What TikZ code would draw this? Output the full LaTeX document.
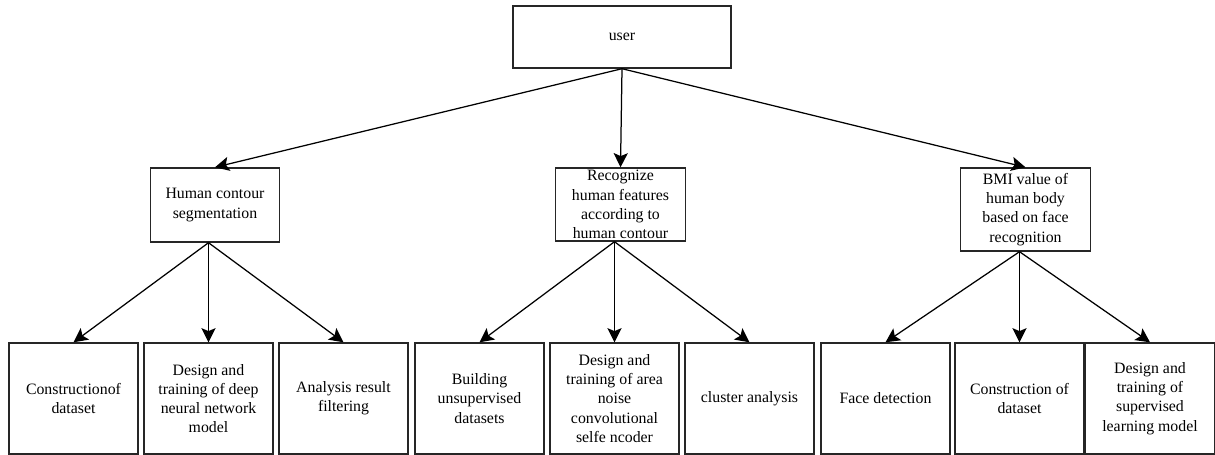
\documentclass[tikz,border=0pt]{standalone}
\usepackage{fontspec}
\setmainfont{Liberation Serif}
\usetikzlibrary{arrows.meta, positioning}

\begin{document}
\begin{tikzpicture}[x=0.6pt, y=-0.6pt,
  box/.style={draw=black!85, line width=0.85pt, align=center, inner sep=1pt, font=\fontsize{9.5}{11.5}\selectfont},
  mid/.style={box, minimum width=77.7pt},
  leaf/.style={box, minimum width=77.4pt, minimum height=66.6pt},
  arr/.style={line width=0.75pt, -{Stealth[length=8.5pt, width=8.5pt, inset=1.8pt]}}]
\useasboundingbox (0,0) rectangle (1215,455);
\node [box, minimum width=130.8pt, minimum height=37.2pt] (user) at (622,37) {user};
\node [mid, minimum height=44.4pt] (human) at (215,205) {Human contour\\segmentation};
\node [mid, minimum height=43.8pt] (recog) at (620.5,204.5) {Recognize\\human features\\according to\\human contour};
\node [mid, minimum height=49.8pt] (bmi) at (1025.5,209.5) {BMI value of\\human body\\based on face\\recognition};
% bottom row
\node [leaf] (hdata) at (73.5,398.5) {Constructionof\\dataset};
\node [leaf] (hdnn) at (208.5,398.5) {Design and\\training of deep\\neural network\\model};
\node [leaf] (hfilter) at (343.5,398.5) {Analysis result\\filtering};
\node [leaf] (rdata) at (479.5,398.5) {Building\\unsupervised\\datasets};
\node [leaf] (rnoise) at (614.5,398.5) {Design and\\training of area\\noise\\convolutional\\selfe ncoder};
\node [leaf] (rcluster) at (749.5,398.5) {cluster analysis};
\node [leaf] (bface) at (885.5,398.5) {Face detection};
\node [leaf] (bdata) at (1019.5,398.5) {Construction of\\dataset};
\node [leaf] (bmodel) at (1150,398.5) {Design and\\training of\\supervised\\learning model};
\draw (user.south) edge[arr] (human.north) edge[arr] (recog.north) edge[arr] (bmi.north);
\draw (human.south -| hdnn) edge[arr] (hdata.north) edge[arr] (hdnn.north) edge[arr] (hfilter.north);
\draw (recog.south -| rnoise) edge[arr] (rdata.north) edge[arr] (rnoise.north) edge[arr] (rcluster.north);
\draw (bmi.south -| bdata) edge[arr] (bface.north) edge[arr] (bdata.north) edge[arr] (bmodel.north);
\end{tikzpicture}
\end{document}
